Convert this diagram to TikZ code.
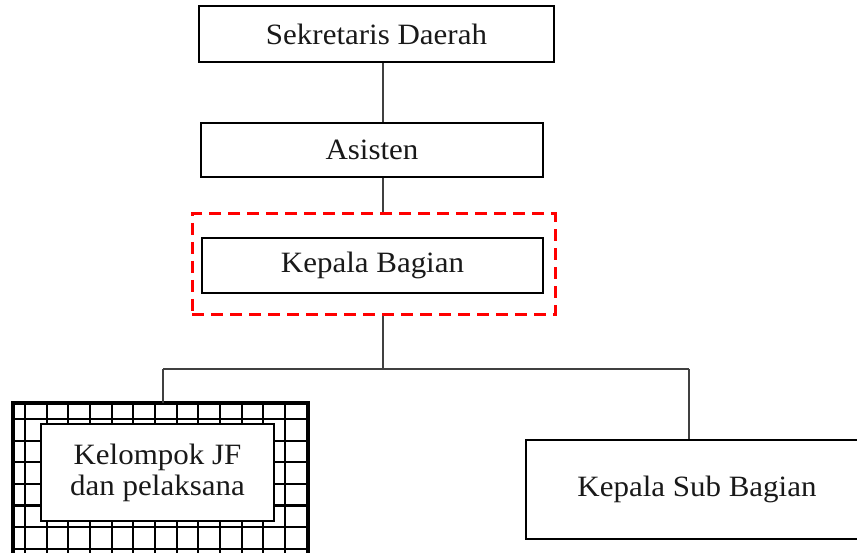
\documentclass[tikz,border=0pt]{standalone}
\usepackage{fontspec}
\setmainfont{Liberation Serif}[FakeStretch=1.05]
\begin{document}
\begin{tikzpicture}[x=1pt,y=-1pt,
  every node/.style={font=\fontsize{29.5}{31}\selectfont, text=black!90},
  unitbox/.style={draw=black, line width=2pt, fill=white, inner sep=0pt, align=center},
  focus/.style={draw=red, line width=3pt, dash pattern=on 12pt off 7pt, inner sep=0pt},
  link/.style={draw=black!75, line width=1.2pt},
  gridline/.style={draw=black, line width=2.2pt}
]
\useasboundingbox (0,0) rectangle (857,553);

% hierarchy boxes
\node[unitbox, minimum width=355pt, minimum height=56pt] (sek) at (376.5,34) {Sekretaris Daerah};
\node[unitbox, minimum width=342pt, minimum height=54pt] (asi) at (372,150) {Asisten};
\node[focus, minimum width=363pt, minimum height=101pt] (focus) at (373.5,264.5) {};
\node[unitbox, minimum width=341pt, minimum height=55pt] (kb) at (372.5,265.5) {Kepala Bagian};
\node[unitbox, minimum width=342pt, minimum height=99pt] (ksb) at (697,489.5) {Kepala Sub Bagian};

% hatched frame for the functional group
\node[draw=black, line width=2.6pt, fill=white, inner sep=0pt,
      minimum width=293pt, minimum height=170pt] (jfout) at (160.5,489) {};
\begin{scope}
  \clip (14,404) rectangle (307,574);
  \foreach \i in {0,...,13} {
    \draw[gridline] (25+21.67*\i,404) -- (25+21.67*\i,574);
  }
  \foreach \j in {0,...,7} {
    \draw[gridline] (14,419+21.6*\j) -- (307,419+21.6*\j);
  }
\end{scope}
\draw[black, line width=2.6pt] (jfout.south west) rectangle (jfout.north east);
\node[unitbox, line width=1.5pt, minimum width=233pt, minimum height=97pt] (jf) at (157.5,472.5)
  {Kelompok JF\\dan pelaksana};

% connectors
\coordinate (spine) at (383,0);
\coordinate (bus) at (0,369);
\coordinate (busL) at (163,369);
\coordinate (busR) at (689,369);
\draw[link] (sek.south -| spine) -- (asi.north -| spine);
\draw[link] (asi.south -| spine) -- (focus.north -| spine);
\draw[link] (focus.south -| spine) -- (spine |- bus);
\draw[link] (busL) -- (busR);
\draw[link] (busL) -- (jfout.north -| busL);
\draw[link] (busR) -- (ksb.north -| busR);
\end{tikzpicture}
\end{document}
